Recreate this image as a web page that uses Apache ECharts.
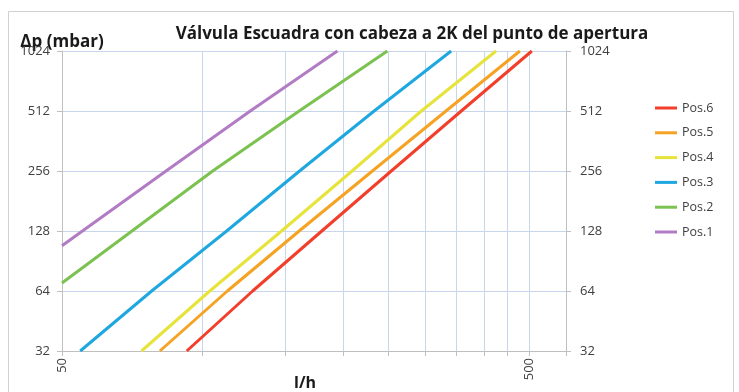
<!DOCTYPE html>
<html>
<head>
<meta charset="utf-8">
<script src="https://cdn.jsdelivr.net/npm/echarts@6/dist/echarts.min.js"></script>
<style>
  html, body { margin: 0; padding: 0; background: #ffffff; }
  #chart { width: 739px; height: 392px; }
</style>
</head>
<body>
<div id="chart"></div>
<script>
// Flow axis (l/h, log10) and pressure-drop axis (mbar, log2)
const flowTicks = [50, 100, 150, 200, 250, 300, 350, 400, 450, 500, 600];
const flowLabels = [50, 500];
const pressureTicks = [32, 64, 128, 256, 512, 1024];

// Valve positions: [flow l/h, Δp mbar]
const seriesNames = ['Pos.6', 'Pos.5', 'Pos.4', 'Pos.3', 'Pos.2', 'Pos.1'];
const pos6 = [[92.5, 32], [128, 64], [180, 128], [253.5, 256], [358, 512], [507, 1024]];
const pos5 = [[81, 32], [113, 64], [161, 128], [231, 256], [332, 512], [478, 1024]];
const pos4 = [[74, 32], [103.6, 64], [147.6, 128], [209, 256], [294, 512], [425, 1024]];
const pos3 = [[54.7, 32], [77.8, 64], [112.6, 128], [161.3, 256], [233, 512], [340.6, 1024]];
const pos2 = [[50, 70.2], [70.6, 128], [105.1, 256], [161, 512], [248.7, 1024]];
const pos1 = [[50, 108], [55.3, 128], [83.5, 256], [126.5, 512], [194.4, 1024]];
const seriesData = [pos6, pos5, pos4, pos3, pos2, pos1];
const seriesColors = ['#f23f2c', '#f6a324', '#e6e43a', '#1fa7df', '#7cc250', '#b27cc4'];

const font = 'Open Sans';
const axisGrey = '#bfbfbf';
const gridBlue = '#c8d6ec';

const chart = echarts.init(document.getElementById('chart'));

const pressureAxis = (side, margin) => ({
  type: 'log',
  logBase: 2,
  min: 32,
  max: 1024,
  position: side,
  axisLine: { show: true, lineStyle: { color: axisGrey, width: 1 } },
  axisTick: { show: true, length: 5, customValues: pressureTicks, lineStyle: { color: axisGrey } },
  axisLabel: {
    customValues: pressureTicks,
    formatter: (v) => String(Math.round(v)),
    margin: margin,
    color: '#404040',
    fontFamily: font,
    fontSize: 13
  },
  splitLine: { show: side === 'left', lineStyle: { color: gridBlue, width: 1 } }
});

chart.setOption({
  animation: false,
  backgroundColor: '#ffffff',
  textStyle: { fontFamily: font },
  title: {
    text: 'Válvula Escuadra con cabeza a 2K del punto de apertura',
    left: 407,
    textAlign: 'center',
    top: 21,
    textStyle: { fontFamily: font, fontWeight: 'bold', fontSize: 17, color: '#1a1a1a' }
  },
  graphic: [{
    type: 'rect',
    shape: { x: 8.5, y: 11.5, width: 725, height: 400 },
    style: { fill: null, stroke: '#d0d0d0', lineWidth: 1 },
    silent: true
  }],
  legend: {
    orient: 'vertical',
    left: 650,
    top: 96,
    itemWidth: 22,
    itemHeight: 3,
    itemGap: 10.8,
    icon: 'rect',
    data: seriesNames,
    textStyle: { fontFamily: font, fontSize: 12.5, color: '#404040', lineHeight: 14 }
  },
  grid: { left: 62, right: 173, top: 51, bottom: 41, containLabel: false, outerBoundsMode: 'none' },
  xAxis: {
    type: 'log',
    logBase: 10,
    min: 50,
    max: 600,
    name: 'l/h',
    nameLocation: 'middle',
    nameGap: 24,
    nameMoveOverlap: false,
    nameTextStyle: { fontFamily: font, fontWeight: 'bold', fontSize: 16, color: '#1a1a1a', padding: [0, 18, 0, 0], verticalAlign: 'top' },
    axisLine: { show: true, lineStyle: { color: axisGrey, width: 1 } },
    axisTick: { show: true, length: 5, customValues: flowTicks, lineStyle: { color: axisGrey } },
    axisLabel: {
      customValues: flowLabels,
      formatter: (v) => String(Math.round(v)),
      rotate: 90,
      margin: 7,
      color: '#404040',
      fontFamily: font,
      fontSize: 13
    },
    splitLine: { show: true, lineStyle: { color: gridBlue, width: 1 } }
  },
  yAxis: [
    Object.assign(pressureAxis('left', 12), {
      name: 'Δp (mbar)',
      nameLocation: 'end',
      nameGap: 0,
      nameMoveOverlap: false,
      nameTextStyle: { fontFamily: font, fontWeight: 'bold', fontSize: 17, color: '#1a1a1a', align: 'center', verticalAlign: 'bottom' }
    }),
    pressureAxis('right', 14)
  ],
  series: seriesNames.map((name, i) => ({
    name: name,
    type: 'line',
    data: seriesData[i],
    showSymbol: false,
    symbol: 'none',
    smooth: false,
    color: seriesColors[i],
    lineStyle: { width: 3, color: seriesColors[i] },
    z: 3
  }))
});
</script>
</body>
</html>
